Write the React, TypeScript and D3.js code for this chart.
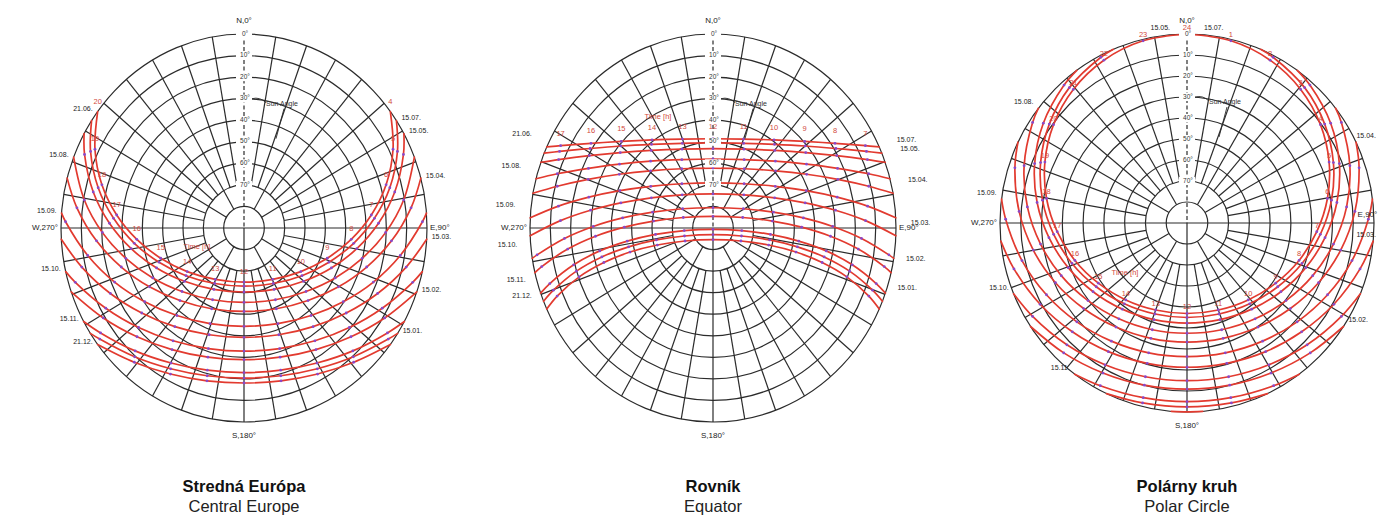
import React from 'react';
import * as d3 from 'd3';

type P = [number, number, number]; // [hour, azimuth°, altitude°]

// ---------- Central Europe (morning half, sunrise -> noon) ----------
const centralDates = ['21.06.', '15.07.', '15.05.', '15.08.', '15.04.', '15.09.', '15.03.', '15.10.', '15.02.', '15.11.', '15.01.', '21.12.'];
const centralSides = ['L', 'R', 'R', 'L', 'R', 'L', 'R', 'L', 'R', 'L', 'R', 'L'];
const centralPaths: P[][] = [
  [[4.04, 53.1, 0], [5, 63.5, 8.1], [6, 74.0, 17.3], [7, 84.5, 27.1], [8, 95.7, 37.0], [9, 108.9, 46.7], [10, 125.9, 55.5], [11, 149.3, 62.3], [12, 180, 64.9]],
  [[4.24, 56.4, 0], [5, 64.8, 6.6], [6, 75.4, 15.9], [7, 86.0, 25.7], [8, 97.5, 35.6], [9, 110.8, 45.3], [10, 127.8, 53.9], [11, 150.8, 60.5], [12, 180, 63.0]],
  [[4.49, 60.9, 0], [5, 66.5, 4.5], [6, 77.3, 14.0], [7, 88.1, 23.8], [8, 99.8, 33.7], [9, 113.3, 43.2], [10, 130.2, 51.7], [11, 152.5, 57.9], [12, 180, 60.3]],
  [[4.91, 68.6, 0], [6, 80.6, 10.4], [7, 91.7, 20.3], [8, 103.6, 30.2], [9, 117.3, 39.5], [10, 134.0, 47.6], [11, 155.1, 53.3], [12, 180, 55.5]],
  [[5.25, 75.1, 0], [6, 83.5, 7.3], [7, 94.7, 17.2], [8, 106.7, 27.0], [9, 120.4, 36.1], [10, 136.9, 43.9], [11, 157.0, 49.3], [12, 180, 51.3]],
  [[5.78, 85.6, 0], [6, 88.1, 2.2], [7, 99.4, 12.1], [8, 111.5, 21.6], [9, 125.0, 30.4], [10, 140.9, 37.7], [11, 159.4, 42.6], [12, 180, 44.4]],
  [[6.17, 93.3, 0], [7, 102.8, 8.2], [8, 114.8, 17.6], [9, 128.1, 26.1], [10, 143.4, 33.0], [11, 160.9, 37.6], [12, 180, 39.3]],
  [[6.66, 103.0, 0], [7, 106.9, 3.3], [8, 118.7, 12.5], [9, 131.7, 20.6], [10, 146.3, 27.1], [11, 162.6, 31.4], [12, 180, 32.9]],
  [[6.98, 109.2, 0], [8, 121.1, 9.2], [9, 133.8, 17.1], [10, 147.9, 23.4], [11, 163.5, 27.5], [12, 180, 28.9]],
  [[7.49, 118.8, 0], [8, 124.6, 4.3], [9, 136.8, 11.8], [10, 150.2, 17.8], [11, 164.7, 21.6], [12, 180, 22.9]],
  [[7.72, 122.9, 0], [8, 126.0, 2.3], [9, 138.0, 9.6], [10, 151.1, 15.4], [11, 165.2, 19.1], [12, 180, 20.4]],
  [[7.96, 126.9, 0], [9, 139.1, 7.6], [10, 151.9, 13.2], [11, 165.6, 16.8], [12, 180, 18.1]],
];
const centralHours = [4, 5, 6, 7, 8, 9, 10, 11, 12, 13, 14, 15, 16, 17, 18, 19, 20];

// ---------- Equator ----------
const equatorDates = ['21.06.', '15.07.', '15.05.', '15.08.', '15.04.', '15.09.', '15.03.', '15.10.', '15.02.', '15.11.', '15.01.', '21.12.'];
const equatorSides = ['L', 'R', 'R', 'L', 'R', 'L', 'R', 'L', 'R', 'L', 'R', 'L'];
const equatorPaths: P[][] = [
  [[6.54, 65.3, 0], [7, 63.0, 5.9], [8, 56.8, 18.3], [9, 48.3, 29.6], [10, 36.3, 39.3], [11, 20.0, 46.1], [12, 0, 48.6]],
  [[6.49, 67.3, 0], [7, 64.8, 6.6], [8, 58.6, 19.2], [9, 50.0, 30.8], [10, 37.9, 40.8], [11, 21.0, 47.9], [12, 0, 50.5]],
  [[6.42, 70.2, 0], [7, 67.3, 7.7], [8, 61.1, 20.5], [9, 52.5, 32.5], [10, 40.2, 42.9], [11, 22.6, 50.4], [12, 0, 53.2]],
  [[6.31, 75.3, 0], [7, 71.8, 9.4], [8, 65.7, 22.8], [9, 57.2, 35.3], [10, 44.7, 46.4], [11, 25.8, 54.8], [12, 0, 58.0]],
  [[6.21, 79.7, 0], [7, 75.8, 11.0], [8, 69.8, 24.6], [9, 61.6, 37.6], [10, 49.2, 49.4], [11, 29.2, 58.5], [12, 0, 62.2]],
  [[6.06, 87.0, 0], [7, 82.4, 13.3], [8, 76.8, 27.3], [9, 69.3, 41.0], [10, 57.7, 53.8], [11, 36.7, 64.4], [12, 0, 69.1]],
  [[5.95, 92.3, 0], [7, 87.4, 14.9], [8, 82.2, 29.2], [9, 75.6, 43.2], [10, 65.2, 56.6], [11, 44.6, 68.4], [12, 0, 74.2]],
  [[5.81, 99.0, 0], [6, 98.2, 2.6], [7, 93.8, 16.8], [8, 89.3, 31.1], [9, 84.0, 45.3], [10, 76.1, 59.4], [11, 59.1, 72.6], [12, 0, 80.6]],
  [[5.72, 103.3, 0], [6, 102.0, 3.9], [7, 97.8, 17.9], [8, 93.8, 32.1], [9, 89.5, 46.4], [10, 83.7, 60.6], [11, 71.6, 74.6], [12, 0, 84.6]],
  [[5.58, 109.6, 0], [6, 107.8, 5.7], [7, 104.0, 19.4], [8, 100.8, 33.3], [9, 98.2, 47.4], [10, 96.0, 61.6], [11, 94.8, 75.8], [12, 180, 89.4]],
  [[5.52, 112.2, 0], [6, 110.2, 6.4], [7, 106.6, 19.9], [8, 103.8, 33.7], [9, 101.9, 47.6], [10, 101.2, 61.6], [11, 104.8, 75.5], [12, 180, 86.9]],
  [[5.46, 114.7, 0], [6, 112.4, 7.1], [7, 109.0, 20.4], [8, 106.6, 34.0], [9, 105.3, 47.7], [10, 106.1, 61.5], [11, 113.7, 75.0], [12, 180, 84.6]],
];
const equatorHours = [7, 8, 9, 10, 11, 12, 13, 14, 15, 16, 17];

// ---------- Polar circle ----------
const polarDates = ['21.06.', '15.07.', '15.05.', '15.08.', '15.04.', '15.09.', '15.03.', '15.10.', '15.02.', '15.11.', '15.01.', '21.12.'];
const polarSides = ['', 'NR', 'NL', 'L', 'R', 'L', 'R', 'L', 'R', 'L', '', ''];
const polarPaths: P[][] = [
  [[0, 0, 0], [1, 13.7, 0.7], [2, 27.3, 2.75], [3, 40.7, 6.1], [4, 53.9, 10.5], [5, 67.0, 15.7], [6, 80.2, 21.4], [7, 93.8, 27.4], [8, 108.3, 33.2], [9, 123.9, 38.6], [10, 141.2, 43.0], [11, 160.0, 45.9], [12, 180, 46.9]],
  [[1.67, 23.2, 0], [2, 27.7, 0.85], [3, 41.3, 4.2], [4, 54.6, 8.7], [5, 67.8, 13.9], [6, 81.1, 19.6], [7, 94.8, 25.6], [8, 109.2, 31.4], [9, 124.8, 36.8], [10, 141.9, 41.1], [11, 160.4, 44.0], [12, 180, 45.0]],
  [[2.57, 36.1, 0], [3, 42.0, 1.6], [4, 55.5, 6.1], [5, 68.9, 11.4], [6, 82.3, 17.2], [7, 96.0, 23.2], [8, 110.4, 29.0], [9, 125.9, 34.2], [10, 142.8, 38.5], [11, 161.0, 41.3], [12, 180, 42.3]],
  [[3.67, 52.6, 0], [4, 57.2, 1.6], [5, 70.8, 7.0], [6, 84.3, 12.8], [7, 98.1, 18.8], [8, 112.5, 24.5], [9, 127.8, 29.7], [10, 144.3, 33.8], [11, 161.8, 36.5], [12, 180, 37.5]],
  [[4.44, 64.7, 0], [5, 72.4, 3.1], [6, 86.1, 9.0], [7, 99.9, 14.9], [8, 114.2, 20.6], [9, 129.3, 25.7], [10, 145.4, 29.8], [11, 162.4, 32.4], [12, 180, 33.3]],
  [[5.55, 82.7, 0], [6, 88.8, 2.7], [7, 102.7, 8.6], [8, 116.8, 14.2], [9, 131.6, 19.1], [10, 147.1, 23.0], [11, 163.4, 25.5], [12, 180, 26.4]],
  [[6.34, 95.5, 0], [7, 104.7, 3.9], [8, 118.7, 9.4], [9, 133.2, 14.3], [10, 148.3, 18.0], [11, 164.0, 20.5], [12, 180, 21.3]],
  [[7.36, 112.0, 0], [8, 120.9, 3.4], [9, 135.1, 8.1], [10, 149.7, 11.8], [11, 164.7, 14.1], [12, 180, 14.9]],
  [[8.06, 123.2, 0], [9, 136.2, 4.3], [10, 150.5, 7.9], [11, 165.1, 10.1], [12, 180, 10.9]],
  [[9.38, 143.1, 0], [10, 151.7, 2.0], [11, 165.8, 4.2], [12, 180, 4.9]],
  [[10.17, 154.5, 0], [11, 166.0, 1.7], [12, 180, 2.4]],
  [[11.7, 175.2, 0], [12, 180, 0.1]],
];
const polarHours = [1, 2, 3, 4, 5, 6, 7, 8, 9, 10, 11, 12, 13, 14, 15, 16, 17, 18, 19, 20, 21, 22, 23, 24];

// ---------- shared axis content ----------
const ringAltitudes = [0, 10, 20, 30, 40, 50, 60, 70, 80];
const altitudeTicks = [0, 10, 20, 30, 40, 50, 60, 70];
const directionLabels = ['N,0°', 'E,90°', 'S,180°', 'W,270°'];
const titles = ['Stredná Európa', 'Rovník', 'Polárny kruh'];
const subtitles = ['Central Europe', 'Equator', 'Polar Circle'];
const timeLabel = 'Time [h]';
const sunAngleLabel = 'Sun Angle';

const W = 1382;
const GRID = '#2b2b2b';
const RED = '#e23a2f';
const PURPLE = '#8a48c8';
const LABEL_FONT = '"Liberation Sans", Arial, sans-serif';
const TITLE_FONT = '"Liberation Sans", Arial, sans-serif';

const charts = [
  { cx: 244, cy: 228, rx: 183, ry: 194, dates: centralDates, sides: centralSides, paths: centralPaths, hours: centralHours, hourDy: -10, dateDx: 5, dateDy: -2, time: [-47, 19], title: titles[0], subtitle: subtitles[0] },
  { cx: 713, cy: 228, rx: 183, ry: 194, dates: equatorDates, sides: equatorSides, paths: equatorPaths, hours: equatorHours, hourDy: -12, dateDx: 15, dateDy: -13, time: [-55, -111], title: titles[1], subtitle: subtitles[1] },
  { cx: 1187, cy: 223, rx: 187, ry: 189, dates: polarDates, sides: polarSides, paths: polarPaths, hours: polarHours, hourDy: -6, dateDx: 5, dateDy: -6, time: [-62, 50], title: titles[2], subtitle: subtitles[2] },
];

const fullDay = (m: P[]): P[] =>
  m.concat(m.slice(0, -1).reverse().map(([t, az, alt]) => [24 - t, 360 - az, alt] as P));

// keep start-anchored text inside the picture
const fitStart = (x: number, text: string, fs: number) => Math.min(x, W - 2 - text.length * fs * 0.56);

function SunChart({ c }: { c: any }) {
  const k = d3.scaleLinear().domain([90, 0]).range([0, 1]);
  const proj = (az: number, alt: number): [number, number] => {
    const a = (az * Math.PI) / 180;
    const s = k(alt);
    return [c.cx + c.rx * s * Math.sin(a), c.cy - c.ry * s * Math.cos(a)];
  };
  const days: P[][] = c.paths.map(fullDay);
  const line = d3
    .line<P>()
    .x((d) => proj(d[1], d[2])[0])
    .y((d) => proj(d[1], d[2])[1])
    .curve(d3.curveCatmullRom.alpha(0.5));
  const spokes = d3.range(0, 360, 10).filter((a) => a % 90 !== 0);

  const hourLabels = c.hours
    .map((h: number) => {
      const p = days[0].find((d) => Math.abs(d[0] - h) < 0.1);
      if (!p) return null;
      const [x, y] = proj(p[1], p[2]);
      return { h, x, y: y + c.hourDy };
    })
    .filter(Boolean);

  const dateLabels = c.dates
    .map((d: string, i: number) => {
      const side = c.sides[i];
      if (!side) return null;
      if (side === 'NL' || side === 'NR') {
        const [x, y] = proj(0, 0);
        return { d, x: side === 'NL' ? x - 17 : x + 17, y: y - 6, anchor: side === 'NL' ? 'end' : 'start' };
      }
      const day = days[i];
      const p = side === 'R' ? day[0] : day[day.length - 1];
      const [x, y] = proj(p[1], p[2]);
      if (side === 'R') return { d, x: fitStart(x + c.dateDx, d, 7), y: y + c.dateDy, anchor: 'start' };
      return { d, x: x - c.dateDx, y: y + c.dateDy, anchor: 'end' };
    })
    .filter(Boolean);

  const dots: [number, number][] = [];
  days.forEach((day) =>
    day.forEach((p) => {
      if (Math.abs(p[0] - Math.round(p[0])) < 0.01 && p[2] > 0.5) dots.push(proj(p[1], p[2]));
    })
  );

  const [nx, ny] = proj(0, 0);
  const [sx, sy] = proj(180, 0);
  const [ex, ey] = proj(90, 0);
  const [wx, wy] = proj(270, 0);
  const y30 = proj(0, 30)[1];
  const eX = fitStart(ex + 3, directionLabels[1], 8);
  const eY = eX < ex + 3 ? ey - 8 : ey;

  return (
    <g>
      {ringAltitudes.map((a) => (
        <ellipse key={'r' + a} cx={c.cx} cy={c.cy} rx={c.rx * k(a)} ry={c.ry * k(a)} fill="none" stroke={GRID} strokeWidth={1.2} />
      ))}
      {spokes.map((a) => {
        const [x1, y1] = proj(a, 0);
        const [x2, y2] = proj(a, a % 30 === 0 ? 80 : 70);
        return <line key={'s' + a} x1={x1} y1={y1} x2={x2} y2={y2} stroke={GRID} strokeWidth={1.2} />;
      })}
      <line x1={wx} y1={wy} x2={ex} y2={ey} stroke={GRID} strokeWidth={1.2} />
      <line x1={c.cx} y1={c.cy} x2={sx} y2={sy} stroke={GRID} strokeWidth={1.2} />
      <line x1={nx} y1={ny} x2={c.cx} y2={c.cy} stroke={GRID} strokeWidth={1.2} strokeDasharray="4,2.5" />

      {days.map((day, i) => (
        <path key={'p' + i} d={line(day) || ''} fill="none" stroke={RED} strokeWidth={1.7} strokeLinecap="round" />
      ))}
      {dots.map(([x, y], i) => (
        <circle key={'d' + i} cx={x} cy={y} r={1.4} fill={PURPLE} />
      ))}

      {hourLabels.map((l: any) => (
        <text key={'h' + l.h} x={l.x} y={l.y} fontSize={7.5} fill="#d24a40" textAnchor="middle" dominantBaseline="middle" fontFamily={LABEL_FONT}>
          {l.h}
        </text>
      ))}
      <text x={c.cx + c.time[0]} y={c.cy + c.time[1]} fontSize={7.5} fill="#d24a40" textAnchor="middle" dominantBaseline="middle" fontFamily={LABEL_FONT}>
        {timeLabel}
      </text>

      {altitudeTicks.map((a) => {
        const y = proj(0, a)[1];
        return (
          <g key={'a' + a}>
            <rect x={c.cx - 8} y={y - 4} width={16} height={8} fill="#fff" />
            <text x={c.cx + 1} y={y} fontSize={6.5} fill="#333" textAnchor="middle" dominantBaseline="middle" fontFamily={LABEL_FONT}>
              {a + '°'}
            </text>
          </g>
        );
      })}
      <path d={`M${c.cx + 8},${y30} q8,-2 14,4`} fill="none" stroke={GRID} strokeWidth={0.9} />
      <text x={c.cx + 22} y={y30 + 5} fontSize={7} fill="#333" dominantBaseline="middle" fontFamily={LABEL_FONT}>
        {sunAngleLabel}
      </text>
      <line x1={c.cx + 40} y1={y30 + 10} x2={c.cx + 32} y2={y30 + 40} stroke={GRID} strokeWidth={0.9} />

      <text x={nx} y={ny - 13} fontSize={8} fill="#222" textAnchor="middle" dominantBaseline="middle" fontFamily={LABEL_FONT}>{directionLabels[0]}</text>
      <text x={eX} y={eY} fontSize={8} fill="#222" dominantBaseline="middle" fontFamily={LABEL_FONT}>{directionLabels[1]}</text>
      <text x={sx} y={sy + 14} fontSize={8} fill="#222" textAnchor="middle" dominantBaseline="middle" fontFamily={LABEL_FONT}>{directionLabels[2]}</text>
      <text x={wx - 3} y={wy} fontSize={8} fill="#222" textAnchor="end" dominantBaseline="middle" fontFamily={LABEL_FONT}>{directionLabels[3]}</text>

      {dateLabels.map((l: any) => (
        <text key={'t' + l.d} x={l.x} y={l.y} fontSize={7} fill="#222" textAnchor={l.anchor} dominantBaseline="middle" fontFamily={LABEL_FONT}>
          {l.d}
        </text>
      ))}

      <text x={c.cx} y={492} fontSize={16.5} fontWeight={700} fill="#111" textAnchor="middle" fontFamily={TITLE_FONT}>
        {c.title}
      </text>
      <text x={c.cx} y={512} fontSize={16.5} fill="#222" textAnchor="middle" fontFamily={TITLE_FONT}>
        {c.subtitle}
      </text>
    </g>
  );
}

export default function App() {
  return (
    <svg width={1382} height={516} viewBox="0 0 1382 516" style={{ position: 'absolute', left: 0, top: 0, background: '#fff' }}>
      <rect width={1382} height={516} fill="#fff" />
      {charts.map((c, i) => (
        <SunChart key={i} c={c} />
      ))}
    </svg>
  );
}
